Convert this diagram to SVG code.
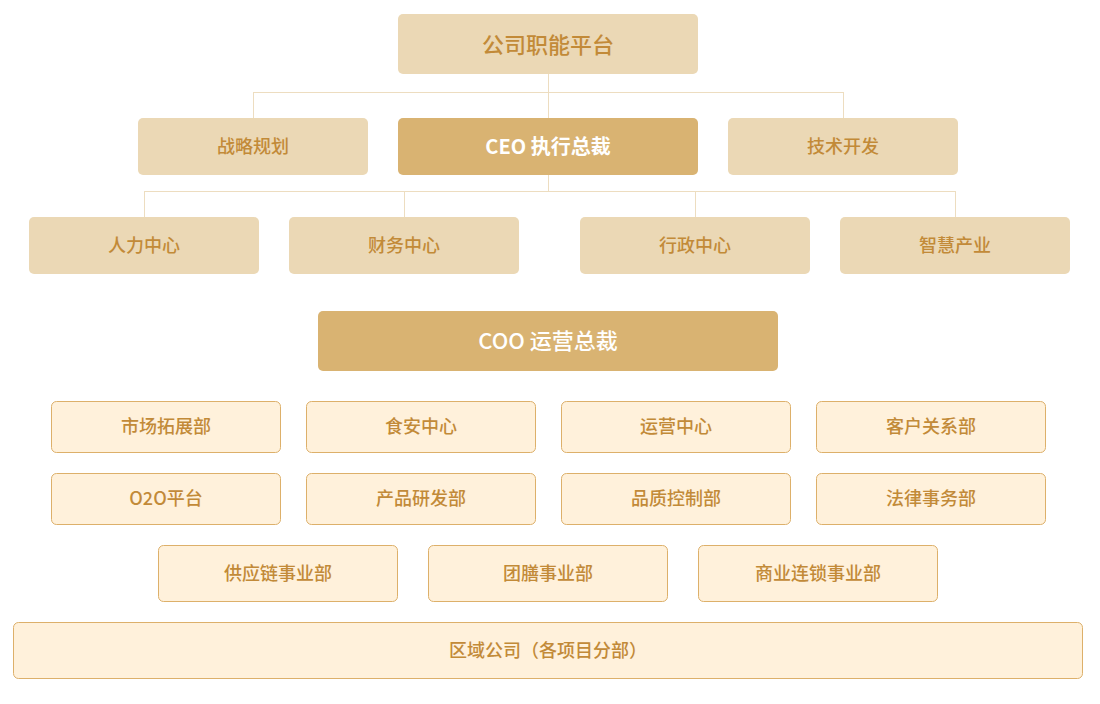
<svg xmlns="http://www.w3.org/2000/svg" width="1100" height="704" viewBox="0 0 1100 704">
<style>
text{font-family:"Noto Sans CJK SC","Noto Sans",sans-serif;text-anchor:middle;dominant-baseline:central}
.l{fill:#EBD8B5}
.d{fill:#D9B372}
.p{fill:#FFF1DB;stroke:#DDB06A;stroke-width:1}
.t{fill:#C28A38;font-size:18px;font-weight:500}
.tb{fill:#C28A38;font-size:22px;font-weight:500}
.w{fill:#FFFFFF;font-size:20px;font-weight:700}
.wc{fill:#FFFFFF;font-size:22px;font-weight:500}
.c{fill:none;stroke:#EDDDC0;stroke-width:1}
</style>
<rect width="1100" height="704" fill="#FFFFFF"/>
<g id="connectors">
<path class="c" d="M548.5 74V118M253.5 92.5H843.5M253.5 92V118M843.5 92V118"/>
<path class="c" d="M548.5 175V191.5M144.5 191.5H955.5M144.5 191V217M404.5 191V217M695.5 191V217M955.5 191V217"/>
</g>
<g id="n-platform"><rect class="l" x="398" y="14" width="300" height="60" rx="5"/><text class="tb" x="548" y="43">公司职能平台</text></g>
<g id="n-strategy"><rect class="l" x="138" y="118" width="230" height="57" rx="5"/><text class="t" x="253" y="145">战略规划</text></g>
<g id="n-ceo"><rect class="d" x="398" y="118" width="300" height="57" rx="5"/><text class="w" x="548" y="145">CEO 执行总裁</text></g>
<g id="n-tech"><rect class="l" x="728" y="118" width="230" height="57" rx="5"/><text class="t" x="843" y="145">技术开发</text></g>
<g id="n-hr"><rect class="l" x="29" y="217" width="230" height="57" rx="5"/><text class="t" x="144" y="244">人力中心</text></g>
<g id="n-finance"><rect class="l" x="289" y="217" width="230" height="57" rx="5"/><text class="t" x="404" y="244">财务中心</text></g>
<g id="n-admin"><rect class="l" x="580" y="217" width="230" height="57" rx="5"/><text class="t" x="695" y="244">行政中心</text></g>
<g id="n-smart"><rect class="l" x="840" y="217" width="230" height="57" rx="5"/><text class="t" x="955" y="244">智慧产业</text></g>
<g id="n-coo"><rect class="d" x="318" y="311" width="460" height="60" rx="5"/><text class="wc" x="548" y="339">COO 运营总裁</text></g>
<g id="n-market"><rect class="p" x="51.5" y="401.5" width="229" height="51" rx="5"/><text class="t" x="166" y="425">市场拓展部</text></g>
<g id="n-food"><rect class="p" x="306.5" y="401.5" width="229" height="51" rx="5"/><text class="t" x="421" y="425">食安中心</text></g>
<g id="n-ops"><rect class="p" x="561.5" y="401.5" width="229" height="51" rx="5"/><text class="t" x="676" y="425">运营中心</text></g>
<g id="n-crm"><rect class="p" x="816.5" y="401.5" width="229" height="51" rx="5"/><text class="t" x="931" y="425">客户关系部</text></g>
<g id="n-o2o"><rect class="p" x="51.5" y="473.5" width="229" height="51" rx="5"/><text class="t" x="166" y="497">O2O平台</text></g>
<g id="n-rd"><rect class="p" x="306.5" y="473.5" width="229" height="51" rx="5"/><text class="t" x="421" y="497">产品研发部</text></g>
<g id="n-qc"><rect class="p" x="561.5" y="473.5" width="229" height="51" rx="5"/><text class="t" x="676" y="497">品质控制部</text></g>
<g id="n-legal"><rect class="p" x="816.5" y="473.5" width="229" height="51" rx="5"/><text class="t" x="931" y="497">法律事务部</text></g>
<g id="n-supply"><rect class="p" x="158.5" y="545.5" width="239" height="56" rx="5"/><text class="t" x="278" y="572">供应链事业部</text></g>
<g id="n-catering"><rect class="p" x="428.5" y="545.5" width="239" height="56" rx="5"/><text class="t" x="548" y="572">团膳事业部</text></g>
<g id="n-chain"><rect class="p" x="698.5" y="545.5" width="239" height="56" rx="5"/><text class="t" x="818" y="572">商业连锁事业部</text></g>
<g id="n-region"><rect class="p" x="13.5" y="622.5" width="1069" height="56" rx="5"/><text class="t" x="548" y="649">区域公司（各项目分部）</text></g>
</svg>
